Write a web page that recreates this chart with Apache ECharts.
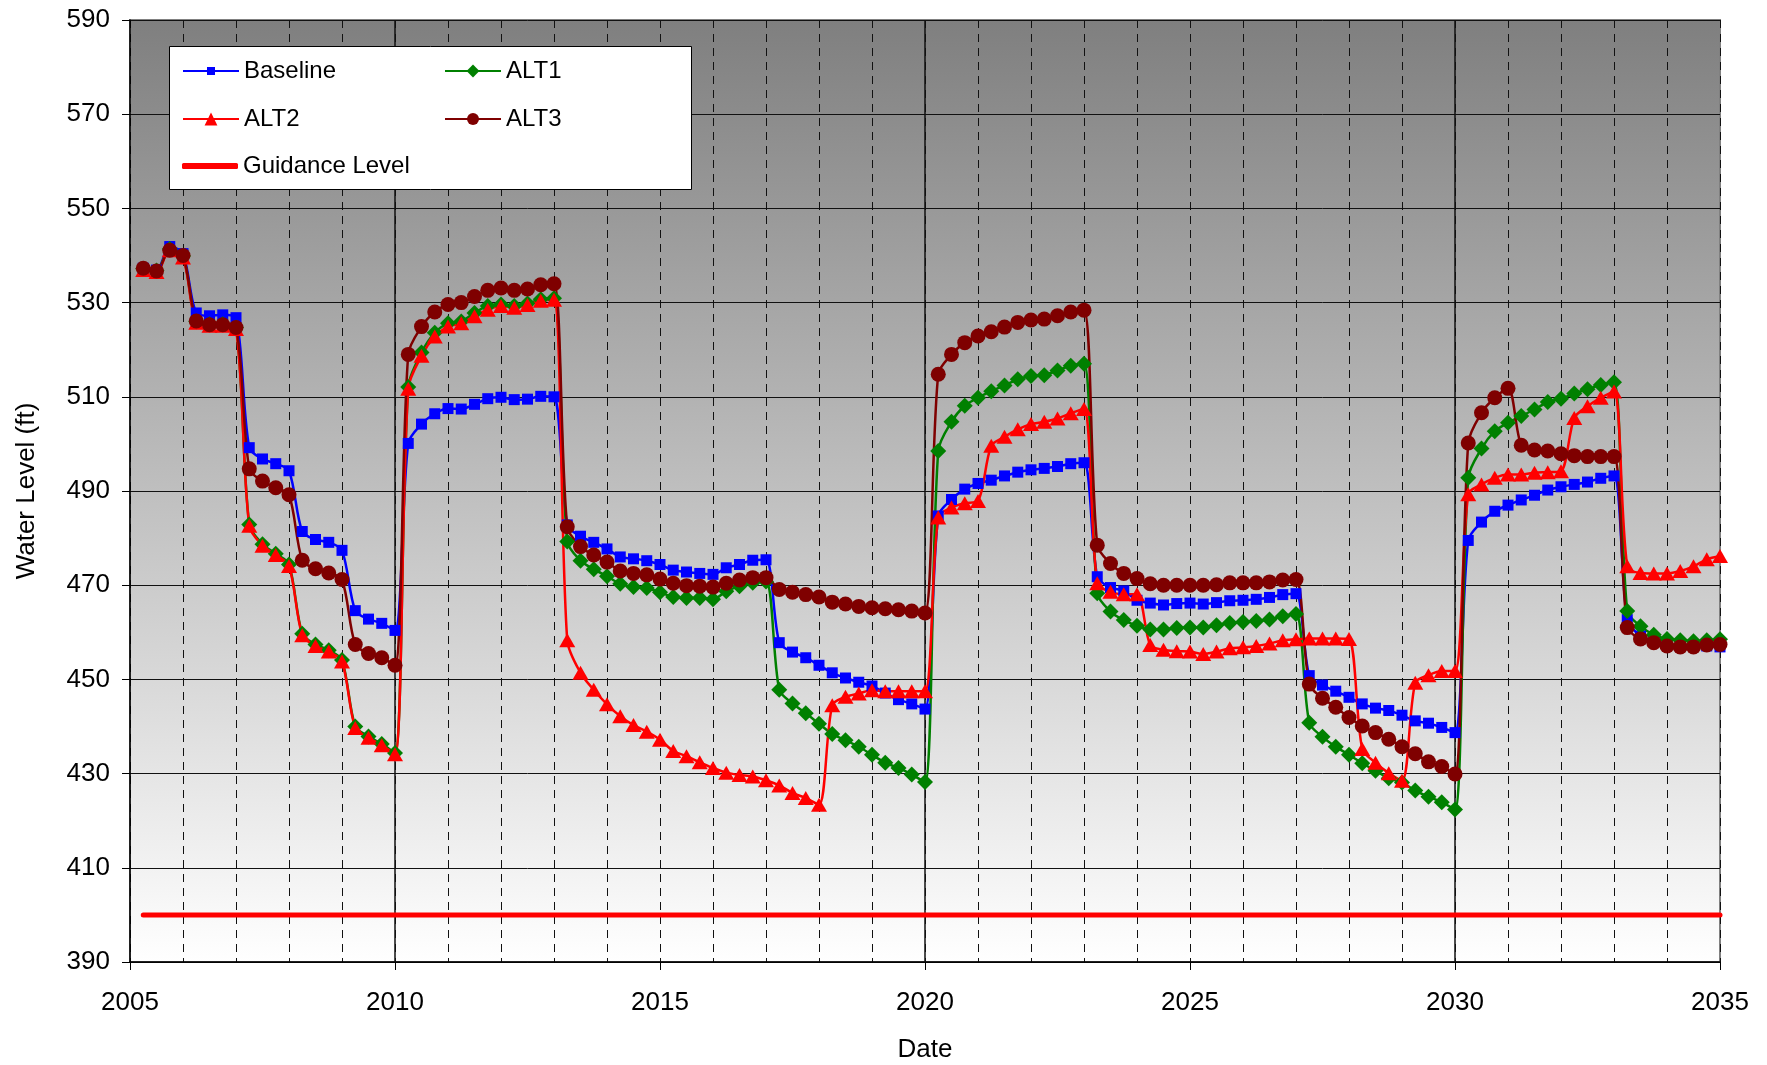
<!DOCTYPE html>
<html>
<head>
<meta charset="utf-8">
<script src="https://cdn.jsdelivr.net/npm/echarts@6/dist/echarts.min.js"></script>
<style>
  html, body { margin: 0; padding: 0; background: #ffffff; }
  #chart { width: 1767px; height: 1065px; }
</style>
</head>
<body>
<div id="chart"></div>
<script>
// Quarterly simulated water levels (ft), first value at 2005.25, one value per quarter to 2035.0
const firstQuarter = 2005.25;
const quarterStep = 0.25;

const baseline = [
  537.3, 536.9, 541.9, 540.4, 527.8, 527.2, 527.4, 526.8, 499.2, 496.8, 495.8, 494.3, 481.4, 479.7, 479.1, 477.4, 464.6, 462.8, 461.9, 460.4,
  500.1, 504.2, 506.4, 507.5, 507.4, 508.4, 509.6, 509.9, 509.4, 509.5, 510.1, 510.0, 482.8, 480.4, 479.1, 477.7, 476.0, 475.6, 475.2, 474.4,
  473.2, 472.8, 472.5, 472.3, 473.7, 474.4, 475.3, 475.4, 457.8, 455.8, 454.6, 453.0, 451.4, 450.3, 449.4, 448.6, 447.1, 445.7, 444.8, 443.7,
  484.7, 488.2, 490.4, 491.6, 492.3, 493.2, 494.0, 494.5, 494.8, 495.2, 495.8, 496.0, 471.8, 469.5, 468.8, 466.8, 466.2, 465.8, 466.1, 466.2,
  466.0, 466.3, 466.7, 466.8, 467.0, 467.4, 468.0, 468.2, 450.8, 448.8, 447.5, 446.2, 444.8, 443.9, 443.4, 442.4, 441.2, 440.7, 439.8, 438.7,
  479.5, 483.4, 485.7, 487.0, 488.1, 489.1, 490.2, 490.9, 491.4, 491.9, 492.7, 493.2, 462.7, 459.2, 458.1, 457.4, 457.1, 457.1, 457.1, 456.9
];

const alt1 = [
  537.2, 536.8, 541.4, 539.9, 526.0, 525.4, 525.4, 524.7, 482.9, 478.7, 476.7, 474.4, 459.7, 457.4, 456.2, 454.1, 440.0, 437.9, 436.3, 434.4,
  512.1, 519.4, 523.6, 525.6, 526.0, 527.8, 529.3, 529.6, 529.3, 529.8, 530.7, 530.9, 479.3, 475.2, 473.4, 471.9, 470.3, 469.6, 469.4, 468.5,
  467.5, 467.3, 467.3, 467.0, 468.7, 469.8, 470.5, 470.8, 447.8, 444.9, 442.8, 440.6, 438.4, 437.1, 435.7, 434.0, 432.3, 431.2, 429.8, 428.2,
  498.5, 504.7, 508.1, 509.8, 511.2, 512.4, 513.7, 514.4, 514.6, 515.6, 516.6, 517.0, 468.3, 464.4, 462.6, 461.4, 460.6, 460.6, 460.9, 461.0,
  461.0, 461.5, 462.0, 462.2, 462.4, 462.7, 463.4, 463.9, 440.8, 437.8, 435.7, 434.0, 432.2, 430.6, 429.0, 428.1, 426.4, 425.1, 423.9, 422.4,
  492.8, 499.0, 502.7, 504.5, 505.9, 507.3, 508.9, 509.6, 510.7, 511.6, 512.5, 513.1, 464.5, 461.3, 459.5, 458.6, 458.3, 458.1, 458.3, 458.5
];

const alt2 = [
  536.9, 536.5, 541.1, 539.6, 525.7, 525.1, 525.1, 524.4, 482.6, 478.4, 476.4, 474.1, 459.4, 457.1, 455.9, 453.8, 439.7, 437.6, 436.0, 434.1,
  511.7, 518.7, 522.8, 524.9, 525.6, 527.1, 528.5, 529.3, 528.9, 529.5, 530.4, 530.6, 458.3, 451.4, 447.8, 444.7, 442.2, 440.3, 438.9, 437.2,
  434.8, 433.7, 432.4, 431.2, 430.2, 429.7, 429.4, 428.6, 427.5, 425.9, 424.8, 423.4, 444.5, 446.3, 447.0, 447.7, 447.5, 447.5, 447.5, 447.5,
  484.4, 486.5, 487.4, 487.9, 499.6, 501.5, 503.1, 504.2, 504.7, 505.4, 506.5, 507.4, 470.4, 468.6, 468.1, 468.1, 457.3, 456.3, 456.0, 455.9,
  455.4, 455.9, 456.6, 456.8, 457.1, 457.6, 458.3, 458.5, 458.7, 458.7, 458.7, 458.6, 435.2, 432.3, 430.1, 428.5, 449.3, 450.9, 451.8, 451.8,
  489.3, 491.4, 492.8, 493.5, 493.5, 493.9, 494.0, 494.2, 505.5, 508.0, 509.8, 511.1, 474.0, 472.6, 472.5, 472.5, 473.0, 474.0, 475.5, 476.2
];

const alt3 = [
  537.3, 536.7, 541.1, 540.0, 526.1, 525.3, 525.3, 524.7, 494.7, 492.1, 490.7, 489.2, 475.3, 473.5, 472.6, 471.2, 457.4, 455.5, 454.6, 453.0,
  519.0, 524.9, 528.0, 529.6, 530.0, 531.3, 532.6, 533.1, 532.6, 532.9, 533.8, 534.0, 482.4, 478.2, 476.4, 474.9, 473.0, 472.5, 472.2, 471.3,
  470.4, 469.9, 469.8, 469.6, 470.4, 471.1, 471.6, 471.6, 469.1, 468.5, 468.0, 467.5, 466.4, 466.0, 465.5, 465.2, 465.0, 464.8, 464.5, 464.1,
  514.8, 519.0, 521.5, 522.9, 523.8, 524.8, 525.8, 526.3, 526.5, 527.2, 528.0, 528.4, 478.5, 474.6, 472.5, 471.4, 470.3, 470.0, 470.0, 470.0,
  470.0, 470.1, 470.5, 470.5, 470.5, 470.7, 471.1, 471.2, 449.0, 446.0, 444.1, 441.9, 440.1, 438.7, 437.3, 435.7, 434.2, 432.5, 431.5, 429.9,
  500.2, 506.6, 509.8, 511.8, 499.7, 498.7, 498.5, 497.9, 497.5, 497.3, 497.3, 497.3, 461.0, 458.6, 457.8, 457.1, 456.9, 456.9, 457.3, 457.4
];

const guidanceLevel = 400;

// Axis ranges and tick spacing
const xRange = { min: 2005, max: 2035, interval: 5 };
const yRange = { min: 390, max: 590, interval: 20 };
const decadeLines = [2010, 2020, 2030];

const FONT = "'Liberation Sans', Arial, sans-serif";

function toPairs(values) {
  return values.map((v, i) => [firstQuarter + i * quarterStep, v]);
}
const lastQuarter = firstQuarter + (baseline.length - 1) * quarterStep;

function levelSeries(name, values, color, symbol, size) {
  return {
    name: name,
    type: 'line',
    data: toPairs(values),
    smooth: 0.3,
    symbol: symbol,
    symbolSize: size,
    showSymbol: true,
    showAllSymbol: true,
    lineStyle: { color: color, width: 2.5 },
    itemStyle: { color: color, borderWidth: 0 },
    emphasis: { disabled: true },
    z: 3
  };
}

const dashStyle = { color: '#111111', width: 1, type: [8, 6] };

function legendItem(name, left, centerY, itemHeight, extra) {
  return Object.assign({
    data: [name],
    left: left,
    top: centerY - 14,
    orient: 'horizontal',
    padding: 0,
    itemWidth: 56,
    itemHeight: itemHeight,
    itemGap: 0,
    selectedMode: false,
    z: 11,
    textStyle: { fontSize: 24, fontFamily: FONT, color: '#000', padding: [0, 0, 0, 0] }
  }, extra || {});
}

const chart = echarts.init(document.getElementById('chart'), null, { renderer: 'canvas' });

chart.setOption({
  animation: false,
  backgroundColor: '#ffffff',
  textStyle: { fontFamily: FONT },
  grid: {
    left: 130, right: 47, top: 20, bottom: 103,
    outerBoundsMode: 'none',
    containLabel: false,
    show: true,
    borderColor: '#808080',
    borderWidth: 2,
    backgroundColor: new echarts.graphic.LinearGradient(0, 0, 0, 1, [
      { offset: 0, color: '#7f7f7f' },
      { offset: 1, color: '#ffffff' }
    ])
  },
  xAxis: {
    type: 'value',
    min: xRange.min, max: xRange.max, interval: xRange.interval,
    name: 'Date',
    nameLocation: 'middle',
    nameGap: 75,
    nameTextStyle: { fontSize: 26, color: '#000', fontFamily: FONT },
    axisLine: { show: true, onZero: false, lineStyle: { color: '#000', width: 1.5 } },
    axisTick: { show: true, inside: false, length: 8, lineStyle: { color: '#000', width: 1 } },
    axisLabel: { fontSize: 26, color: '#000', margin: 28, fontFamily: FONT, formatter: v => String(v) },
    splitLine: { show: true, lineStyle: dashStyle },
    minorTick: { show: false, splitNumber: 5 },
    minorSplitLine: { show: true, lineStyle: dashStyle }
  },
  yAxis: {
    type: 'value',
    min: yRange.min, max: yRange.max, interval: yRange.interval,
    name: 'Water Level (ft)',
    nameLocation: 'middle',
    nameGap: 90,
    nameRotate: 90,
    nameTextStyle: { fontSize: 26, color: '#000', fontFamily: FONT },
    axisLine: { show: true, lineStyle: { color: '#000', width: 1.5 } },
    axisTick: { show: true, inside: false, length: 8, lineStyle: { color: '#000', width: 1 } },
    axisLabel: { fontSize: 26, color: '#000', margin: 20, fontFamily: FONT },
    splitLine: { show: true, lineStyle: { color: '#111', width: 1 } }
  },
  graphic: [{
    type: 'rect',
    left: 169, top: 46,
    shape: { width: 522, height: 143 },
    style: { fill: '#ffffff', stroke: '#000', lineWidth: 1 },
    z: 10
  }],
  legend: [
    legendItem('Baseline', 182, 73, 10),
    legendItem('ALT1', 444, 73, 16),
    legendItem('ALT2', 182, 121, 16),
    legendItem('ALT3', 444, 121, 15),
    legendItem('Guidance Level', 182, 168, 6, {
      data: [{ name: 'Guidance Level', icon: 'roundRect' }]
    })
  ],
  series: [
    {
      type: 'line',
      data: [],
      silent: true,
      markLine: {
        z: 1,
        silent: true,
        symbol: ['none', 'none'],
        label: { show: false },
        lineStyle: { color: '#111', type: 'solid', width: 1.5 },
        data: decadeLines.map(x => ({ xAxis: x }))
      }
    },
    levelSeries('Baseline', baseline, '#0000ff', 'rect', 11),
    levelSeries('ALT1', alt1, '#008000', 'diamond', 16),
    levelSeries('ALT2', alt2, '#ff0000', 'triangle', [16, 14]),
    levelSeries('ALT3', alt3, '#7f0000', 'circle', 15),
    {
      name: 'Guidance Level',
      type: 'line',
      data: [[firstQuarter, guidanceLevel], [lastQuarter, guidanceLevel]],
      symbol: 'none',
      clip: false,
      lineStyle: { color: '#ff0000', width: 5, cap: 'round' },
      itemStyle: { color: '#ff0000' },
      emphasis: { disabled: true },
      z: 3
    }
  ]
});
</script>
</body>
</html>
